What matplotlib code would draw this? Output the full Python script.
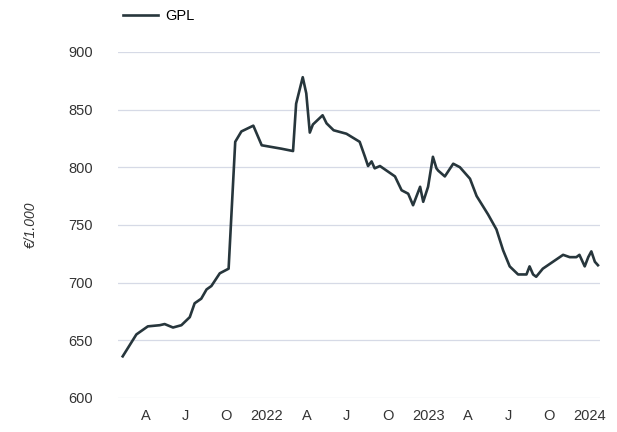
import matplotlib
matplotlib.use("Agg")
import matplotlib.pyplot as plt
import pandas as pd

plt.rcParams["font.family"] = ["Liberation Sans", "DejaVu Sans"]

dates = [
    "2021-02-08", "2021-03-11", "2021-04-06", "2021-05-03", "2021-05-14", "2021-06-02",
    "2021-06-21", "2021-07-10", "2021-07-21", "2021-08-05", "2021-08-17", "2021-08-28",
    "2021-09-16", "2021-10-01", "2021-10-06", "2021-10-21", "2021-11-04", "2021-12-01",
    "2021-12-20", "2022-01-04", "2022-02-03", "2022-03-01", "2022-03-08", "2022-03-23",
    "2022-03-31", "2022-04-08", "2022-04-15", "2022-05-07", "2022-05-16", "2022-06-01",
    "2022-06-30", "2022-07-30", "2022-08-11", "2022-08-18", "2022-08-26", "2022-09-02",
    "2022-09-14", "2022-10-18", "2022-11-02", "2022-11-17", "2022-11-28", "2022-12-14",
    "2022-12-21", "2023-01-01", "2023-01-12", "2023-01-20", "2023-01-24", "2023-02-08",
    "2023-02-27", "2023-03-14", "2023-04-06", "2023-04-21", "2023-05-17", "2023-06-05",
    "2023-06-20", "2023-07-05", "2023-07-24", "2023-08-12", "2023-08-19", "2023-08-27",
    "2023-09-03", "2023-09-18", "2023-10-11", "2023-11-03", "2023-11-18", "2023-12-03",
    "2023-12-10", "2023-12-22", "2023-12-30", "2024-01-06", "2024-01-14", "2024-01-21",
]
gpl = [
    636, 655, 662, 663, 664, 661,
    663, 670, 682, 686, 694, 697,
    708, 711, 712, 822, 831, 836,
    819, 818, 816, 814, 855, 878,
    864, 830, 837, 845, 838, 832,
    829, 822, 809, 801, 805, 799,
    801, 792, 780, 777, 767, 783,
    770, 783, 809, 799, 797, 792,
    803, 800, 790, 775, 759, 746,
    728, 714, 707, 707, 714, 707,
    705, 712, 718, 724, 722, 722,
    724, 714, 722, 727, 718, 715,
]

ytick_vals = [600, 650, 700, 750, 800, 850, 900]

x = pd.to_datetime(dates)

fig = plt.figure(figsize=(6.17, 4.32), dpi=100)
ax = fig.add_axes([0.191, 0.079, 0.781, 0.801])

ax.plot(x, gpl, color="#27363c", linewidth=1.9, label="GPL")

ax.set_ylim(600, 900)
ax.set_yticks(ytick_vals)
ax.set_xlim(pd.Timestamp("2021-01-28"), pd.Timestamp("2024-01-25"))

# quarter ticks: A J O and the year
ticks = pd.date_range("2021-04-01", "2024-01-01", freq="QS")
labels = [str(t.year) if t.month == 1 else {4: "A", 7: "J", 10: "O"}[t.month] for t in ticks]
ax.set_xticks(ticks)
ax.set_xticklabels(labels)

ax.set_xticks(pd.to_datetime(["2022-01-01", "2023-01-01", "2024-01-01"]), minor=True)
ax.grid(True, which="minor", axis="x", color="#d6dae6", linewidth=0.9)
ax.grid(True, which="major", axis="y", color="#d6dae6", linewidth=0.9)
ax.tick_params(axis="both", which="both", length=0, labelsize=10.5, colors="#333333")
ax.tick_params(axis="y", pad=18)
ax.tick_params(axis="x", pad=8)
for s in ax.spines.values():
    s.set_visible(False)

ax.set_ylabel("€/1.000", style="italic", fontsize=10, color="#333333", labelpad=22)

fig.legend(loc="upper left", bbox_to_anchor=(0.178, 1.01), frameon=False,
           fontsize=10.5, handlelength=2.4, handletextpad=0.5)

fig.savefig("out.png", dpi=100)
